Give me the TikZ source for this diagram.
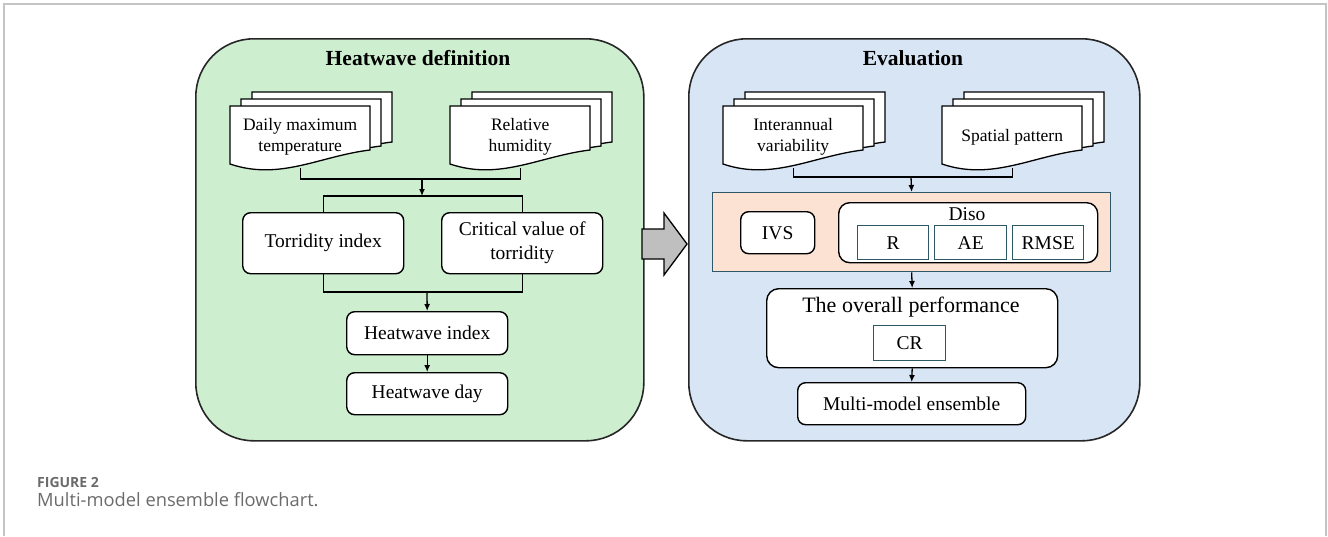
\documentclass[tikz,border=0pt]{standalone}
\usepackage{fontspec}
\setmainfont{Liberation Serif}
\newfontfamily\capfont[Ligatures=NoCommon]{Open Sans}
\usetikzlibrary{arrows.meta}
\definecolor{gfill}{HTML}{CDEFD0}
\definecolor{bfill}{HTML}{D7E5F5}
\definecolor{sfill}{HTML}{FCE2D2}
\definecolor{tealb}{HTML}{2F5866}
\definecolor{capgray}{HTML}{6B6B6B}
\definecolor{framegray}{HTML}{C4C4C4}
\definecolor{arrgray}{HTML}{BFBFBF}
\newcommand{\docsh}[3]{%
  \filldraw[fill=white,draw=black,line width=1.3pt] (#1,#2) -- (#1+140,#2) -- (#1+140,#2+#3-14)
    .. controls (#1+90,#2+#3-8) and (#1+50,#2+#3+17) .. (#1,#2+#3) -- cycle;}
\newcommand{\docstack}[4]{% front x, second x, third x, front top y
  \docsh{#3}{#4-14}{64}\docsh{#2}{#4-7}{61}\docsh{#1}{#4}{58}}
\tikzset{
  panel/.style={draw=black!85,line width=1.6pt,rounded corners=58pt,anchor=north west,inner sep=0pt},
  title/.style={font=\bfseries\fontsize{21.5}{24}\selectfont},
  box/.style={draw=black,line width=1.4pt,rounded corners=8pt,fill=white,align=center,
    font=\fontsize{19.5}{24}\selectfont,inner sep=0pt,anchor=north west},
  sqbox/.style={draw=tealb,line width=1.4pt,fill=white,font=\fontsize{19.5}{22}\selectfont,
    inner sep=0pt,anchor=north west},
  doctext/.style={align=center,font=\fontsize{17.5}{21}\selectfont,minimum width=140pt,
    minimum height=62pt,anchor=north west,inner sep=0pt},
  conn/.style={line width=1.3pt},
  arr/.style={conn,-{Latex[length=7pt,width=6pt]}},
}
\begin{document}
\begin{tikzpicture}[x=1pt,y=-1pt]
\useasboundingbox (0,0) rectangle (1328,536);
% outer frame
\draw[framegray,line width=1.5pt] (4,536) -- (4,4) -- (1326,4) -- (1326,536);
% panels
\node[panel,fill=gfill,minimum width=448pt,minimum height=402pt] (gp) at (195,38) {};
\node[panel,fill=bfill,minimum width=451pt,minimum height=402pt] (bp) at (688,38) {};
\node[title] (t1) at (418,58) {Heatwave definition};
\node[title] (t2) at (913,58) {Evaluation};
% block arrow
\draw[fill=arrgray,line width=1.3pt,line join=miter] (642,229) -- (664,229) -- (664,213) -- (687,244)
  -- (664,275) -- (664,259) -- (642,259) -- cycle;
% documents left
\docstack{230}{241}{252}{106}
\docstack{450}{461}{472}{106}
\node[doctext] (dA) at (230,106) {Daily maximum\\temperature};
\node[doctext] (dB) at (450,106) {Relative\\humidity};
% documents right
\docstack{723}{734}{745}{106}
\docstack{942}{953}{964}{106}
\node[doctext] (dC) at (723,106) {Interannual\\variability};
\node[doctext] (dD) at (942,106) {Spatial pattern};
% left flow
\coordinate (m1) at (422,179);
\coordinate (s1) at (422,196);
\node[box,minimum width=161pt,minimum height=61pt] (ti) at (242,212) {Torridity index};
\node[box,minimum width=161pt,minimum height=61pt] (cv) at (441,212) {Critical value of\\torridity};
\coordinate (m2) at (427,292);
\node[box,minimum width=161pt,minimum height=43pt] (hi) at (346,311) {Heatwave index};
\node[box,minimum width=161pt,minimum height=42pt] (hd) at (346,372) {Heatwave day};
\draw[conn] (dA.south) |- (m1) -| (dB.south);
\draw[arr] (m1) -- (s1);
\draw[conn] (ti.north) |- (s1) -| (cv.north);
\draw[conn] (ti.south) |- (m2) -| (cv.south);
\draw[arr] (m2) -- (hi.north);
\draw[arr] (hi.south) -- (hd.north);
% right flow
\coordinate (m3) at (911,177);
\node[draw=tealb,line width=1.3pt,fill=sfill,anchor=north west,inner sep=0pt,
  minimum width=398pt,minimum height=79pt] (sal) at (712,192) {};
\node[box,minimum width=74pt,minimum height=42pt] (ivs) at (740,211) {IVS};
\node[box,rounded corners=11pt,minimum width=259pt,minimum height=60pt] (diso) at (838,202) {};
\node[font=\fontsize{19.5}{22}\selectfont] (dt) at (967,214) {Diso};
\node[sqbox,minimum width=71pt,minimum height=34pt] (r) at (857,225) {R};
\node[sqbox,minimum width=72pt,minimum height=34pt] (ae) at (934,225) {AE};
\node[sqbox,minimum width=71pt,minimum height=34pt] (rmse) at (1012,225) {RMSE};
\node[box,rounded corners=12pt,minimum width=291pt,minimum height=79pt] (ov) at (766,288) {};
\node[font=\fontsize{22}{26}\selectfont] (ot) at (911,307) {The overall performance};
\node[sqbox,minimum width=72pt,minimum height=35pt] (cr) at (873,325) {CR};
\node[box,minimum width=228pt,minimum height=42pt] (mm) at (797,382) {Multi-model ensemble};
\draw[conn] (dC.south) |- (m3) -| (dD.south);
\draw[arr] (m3) -- (sal.north);
\draw[arr] (sal.south) -- (ov.north);
\draw[arr] (ov.south) -- (mm.north);
% caption
\node[anchor=base west,inner sep=0pt,text=capgray,font=\capfont\bfseries\fontsize{14}{16}\selectfont] (fig) at (37,487) {FIGURE 2};
\node[anchor=base west,inner sep=0pt,text=capgray,font=\capfont\fontsize{18.3}{21}\selectfont] (cap) at (37,506) {Multi-model ensemble flowchart.};
\end{tikzpicture}
\end{document}
